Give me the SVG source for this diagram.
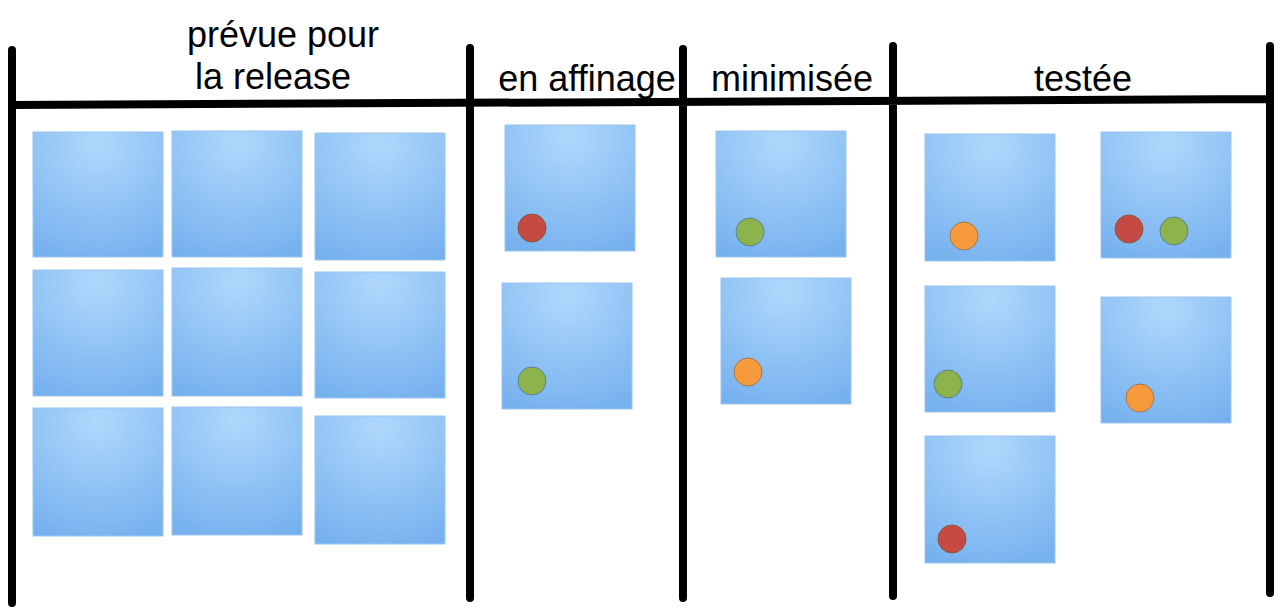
<svg xmlns="http://www.w3.org/2000/svg" width="1284" height="613" viewBox="0 0 1284 613">
<defs>
<radialGradient id="g" cx="0.5" cy="0.1" r="1">
<stop offset="0" stop-color="#b0d8fc"/><stop offset="1" stop-color="#74b0ee"/>
</radialGradient>
<style>
.s{fill:url(#g);stroke:#9cc6ee;stroke-width:1}
.l{stroke:#000;stroke-width:8;stroke-linecap:round;fill:none}
.t{font-family:"Liberation Sans",Arial,sans-serif;font-size:36px;fill:#000;text-anchor:middle}
.r{fill:#c44a43;stroke:#8a5a3a;stroke-width:1}
.gr{fill:#8db44a;stroke:#5e7f9a;stroke-width:1}
.o{fill:#f69a3c;stroke:#a07a5a;stroke-width:1}
</style>
</defs>
<rect width="1284" height="613" fill="#fff"/>
<g id="lines">
<path class="l" d="M12 50V603M470 48V598M683 49V598M893 46V596M1270 46V593M12 105L1270 99"/>
</g>
<g id="labels">
<text class="t" x="283" y="47">prévue pour</text>
<text class="t" x="273" y="89">la release</text>
<text class="t" x="587" y="91">en affinage</text>
<text class="t" x="792" y="91">minimisée</text>
<text class="t" x="1083" y="91">testée</text>
</g>
<g id="stickies">
<rect class="s" x="33" y="132" width="130" height="125"/>
<rect class="s" x="172" y="131" width="130" height="126"/>
<rect class="s" x="315" y="133" width="130" height="127"/>
<rect class="s" x="33" y="270" width="130" height="126"/>
<rect class="s" x="172" y="268" width="130" height="128"/>
<rect class="s" x="315" y="272" width="130" height="126"/>
<rect class="s" x="33" y="408" width="130" height="128"/>
<rect class="s" x="172" y="407" width="130" height="128"/>
<rect class="s" x="315" y="416" width="130" height="128"/>
<rect class="s" x="505" y="125" width="130" height="126"/>
<rect class="s" x="502" y="283" width="130" height="126"/>
<rect class="s" x="716" y="131" width="130" height="126"/>
<rect class="s" x="721" y="278" width="130" height="126"/>
<rect class="s" x="925" y="134" width="130" height="127"/>
<rect class="s" x="1101" y="132" width="130" height="126"/>
<rect class="s" x="925" y="286" width="130" height="126"/>
<rect class="s" x="1101" y="297" width="130" height="126"/>
<rect class="s" x="925" y="436" width="130" height="127"/>
</g>
<g id="dots">
<circle class="r" cx="532" cy="228" r="14"/>
<circle class="gr" cx="532" cy="381" r="14"/>
<circle class="gr" cx="750" cy="232" r="14"/>
<circle class="o" cx="748" cy="372" r="14"/>
<circle class="o" cx="964" cy="236" r="14"/>
<circle class="r" cx="1129" cy="229" r="14"/>
<circle class="gr" cx="1174" cy="231" r="14"/>
<circle class="gr" cx="948" cy="384" r="14"/>
<circle class="o" cx="1140" cy="398" r="14"/>
<circle class="r" cx="952" cy="539" r="14"/>
</g>
</svg>
